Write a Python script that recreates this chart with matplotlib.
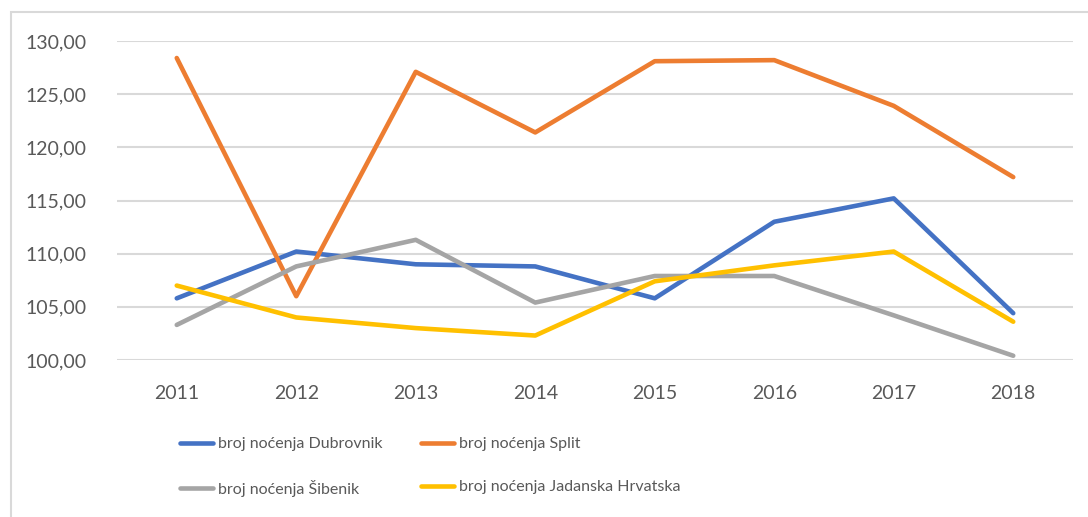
import matplotlib
matplotlib.use("Agg")
from matplotlib import pyplot as plt
from matplotlib.patches import Rectangle

years = ["2011", "2012", "2013", "2014", "2015", "2016", "2017", "2018"]
dubrovnik = [105.8, 110.2, 109.0, 108.8, 105.8, 113.0, 115.2, 104.4]
split = [128.4, 106.0, 127.1, 121.4, 128.1, 128.2, 123.9, 117.2]
sibenik = [103.3, 108.8, 111.3, 105.4, 107.9, 107.9, 104.2, 100.4]
jadranska = [107.0, 104.0, 103.0, 102.3, 107.4, 108.9, 110.2, 103.6]

labels = ["broj noćenja Dubrovnik", "broj noćenja Split",
          "broj noćenja Šibenik", "broj noćenja Jadanska Hrvatska"]
colors = ["#4472C4", "#ED7D31", "#A5A5A5", "#FFC000"]
yticks = [100, 105, 110, 115, 120, 125, 130]

plt.rcParams['font.family'] = ['Lato', 'DejaVu Sans']

fig = plt.figure(figsize=(10.88, 5.17), dpi=100)
ax = fig.add_axes([117/1088, 1-360/517, (1073-117)/1088, (360-41)/517])

x = range(len(years))
lines = []
for vals, c, lab in zip([dubrovnik, split, sibenik, jadranska], colors, labels):
    ln, = ax.plot(x, vals, color=c, lw=3.3, label=lab, solid_capstyle='round', zorder=3)
    lines.append(ln)

ax.set_xlim(-0.5, len(years) - 0.5)
ax.set_ylim(100, 130)
ax.set_yticks(yticks)
ax.set_yticklabels([f"{v:.2f}".replace(".", ",") for v in yticks])
ax.set_xticks(list(x))
ax.set_xticklabels(years)
ax.tick_params(length=0, labelsize=14, colors="#595959")
ax.tick_params(axis='y', pad=22)
ax.tick_params(axis='x', pad=18)
ax.yaxis.grid(True, color="#D9D9D9", lw=1.5)
ax.set_axisbelow(True)
for s in ax.spines.values():
    s.set_visible(False)

# outer chart border
fig.patches.append(Rectangle((11/1088, -0.1), 1.2, 1 - 12/517 + 0.1,
                             transform=fig.transFigure, fill=False,
                             edgecolor="#D9D9D9", lw=1.5))

# legend fills column-wise, so reorder to get rows Dubrovnik/Split, Šibenik/Jadranska
idx = [0, 2, 1, 3]
leg = fig.legend(handles=[lines[i] for i in idx], labels=[labels[i] for i in idx],
                 ncol=2, frameon=False, loc='upper left',
                 bbox_to_anchor=(180/1088, 1-437/517), borderaxespad=0, borderpad=0,
                 fontsize=11.5, labelcolor="#595959", handlelength=2.07,
                 handletextpad=0.31, columnspacing=2.4, labelspacing=1.8)

fig.savefig("out.png", dpi=100)
